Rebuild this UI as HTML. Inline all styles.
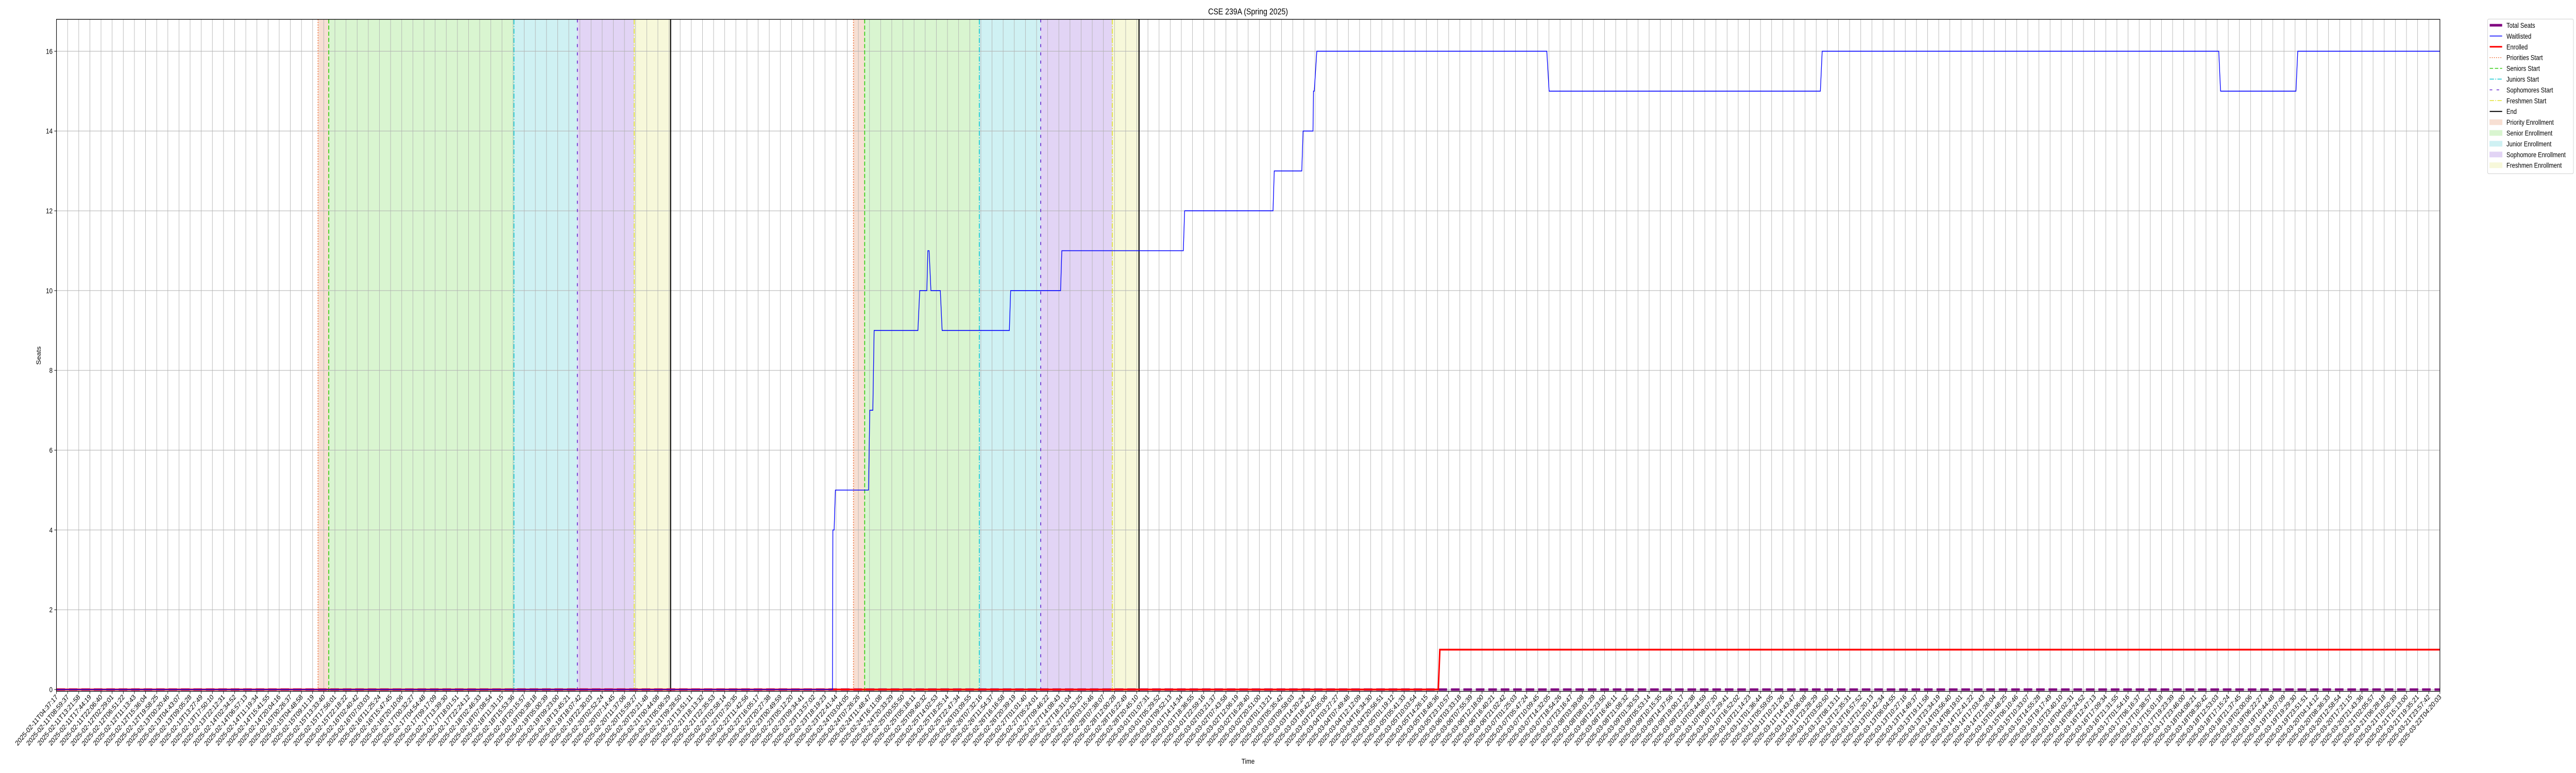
<!DOCTYPE html>
<html><head><meta charset="utf-8"><style>
html,body{margin:0;padding:0;background:#fff;width:100%;height:100%;overflow:hidden;}
svg{display:block;font-family:"Liberation Sans","DejaVu Sans",sans-serif;width:100vw;height:100vh;}
</style></head><body>
<svg id="chart" viewBox="0 0 6000 1500" preserveAspectRatio="none" xmlns="http://www.w3.org/2000/svg">
<rect x="0" y="0" width="6000" height="1500" fill="#fff"/>
<text x="2907" y="28" font-size="17" text-anchor="middle" fill="#000">CSE 239A (Spring 2025)</text>
<g id="plot"></g>
<text transform="translate(95,690) rotate(-90)" font-size="14" text-anchor="middle" fill="#000">Seats</text>
<text x="2907" y="1482" font-size="14" text-anchor="middle" fill="#000">Time</text>
<g id="legend"></g>
</svg>
<script>
// ---- data (hours since 2025-02-11T04:37:17) ----
const startTime = "2025-02-11T04:37:17";
const endTime = "2025-03-22T04:20:03";
const tickCount = 215;
const yTicks = [0,2,4,6,8,10,12,14,16];
const waitTimes = [0,304.65,304.8,305.3,305.8,318.8,319.3,320.5,321.0,338.2,338.9,341.7,342.1,342.6,343.3,347.0,347.7,374.1,374.6,394.2,394.7,442.4,442.9,477.6,478.1,488.9,489.4,493.3,493.5,493.8,494.8,585.1,586.0,692.5,693.2,848.9,849.6,879.2,879.9,935.7];
const waitValues = [0,0,4,4,5,5,7,7,9,9,10,10,11,11,10,10,9,9,10,10,11,11,12,12,13,13,14,14,15,15,16,16,15,15,16,16,15,15,16,16];
const enrollTimes = [0,542.5,543.1,935.7];
const enrollValues = [0,0,1,1];
const seatTimes = [0,935.7];
const seatValues = [0,0];
const periodNames = ["priority","senior","junior","sophomore","freshmen"];
const cycle1Starts = [102.7,106.9,179.6,204.5,226.8];
const cycle1End = 241.1;
const cycle2Starts = [312.9,317.3,362.3,386.4,414.5];
const cycle2End = 425.0;

// ---- axes ----
const NS="http://www.w3.org/2000/svg";
const X0=131.5, X1=5683, Y0=37.5, Y1=1341.5;
const t0=Date.parse(startTime+"Z"), t1=Date.parse(endTime+"Z");
const totalH=(t1-t0)/3600000;
const yMin=-0.045, yMax=16.8;
function xs(h){return X0+(h/totalH)*(X1-X0);}
function ys(v){return Y1-(v-yMin)/(yMax-yMin)*(Y1-Y0);}
function mk(tag,attrs,parent){const e=document.createElementNS(NS,tag);for(const k in attrs)e.setAttribute(k,attrs[k]);parent.appendChild(e);return e;}
const plot=document.getElementById('plot');
const tickLabels=[];
for(let i=0;i<tickCount;i++){const d=new Date(t0+(t1-t0)*i/(tickCount-1));tickLabels.push(d.toISOString().slice(0,19));}

const shadeCols=["#f7dfd3","#d9f5d0","#cff1f3","#e2d4f5","#f7f8da"];
const lineCols=["#ee6a30","#33cc11","#11c8d0","#6a2bd0","#e0e030"];
const dashes=["2,3","8,4","10,3,2,3","6,10","10,3,2,3"];
function drawCycle(starts,end,idx){
  for(let i=0;i<starts.length;i++){
    const a=starts[i], b=(i<starts.length-1)?starts[i+1]:end;
    const r=mk('rect',{x:xs(a),y:Y0,width:xs(b)-xs(a),height:Y1-Y0,fill:shadeCols[i]},plot);
    
    
  }
}
drawCycle(cycle1Starts,cycle1End,1);
drawCycle(cycle2Starts,cycle2End,2);

// grid
tickLabels.forEach((lab,i)=>{
  const x=X0+(X1-X0)*i/(tickCount-1);
  const g=mk('line',{x1:x,x2:x,y1:Y0,y2:Y1,stroke:"#b0b0b0","stroke-width":1},plot);
  
  
  const t=mk('line',{x1:x,x2:x,y1:Y1,y2:Y1+5,stroke:"#000","stroke-width":1},plot);
  
  
  const tx=mk('text',{transform:`translate(${x+4},${Y1+12}) rotate(-45)`,"font-size":"14","text-anchor":"end",fill:"#000"},plot);
  tx.textContent=lab;
  
  
});
yTicks.forEach(v=>{
  const y=ys(v);
  const g=mk('line',{x1:X0,x2:X1,y1:y,y2:y,stroke:"#b0b0b0","stroke-width":1},plot);
  
  
  const t=mk('line',{x1:X0-5,x2:X0,y1:y,y2:y,stroke:"#000","stroke-width":1},plot);
  
  
  const tx=mk('text',{x:X0-9,y:y+5,"font-size":"14","text-anchor":"end",fill:"#000"},plot);
  tx.textContent=String(v);
  
  
});

// event lines
function drawEvents(starts,end,idx){
  starts.forEach((h,i)=>{
    const l=mk('line',{x1:xs(h),x2:xs(h),y1:Y0,y2:Y1,stroke:lineCols[i],"stroke-width":2,"stroke-dasharray":dashes[i]},plot);
    
    
  });
  const e=mk('line',{x1:xs(end),x2:xs(end),y1:Y0,y2:Y1,stroke:"#000","stroke-width":2.5},plot);
  
  
}
drawEvents(cycle1Starts,cycle1End,1);
drawEvents(cycle2Starts,cycle2End,2);

function pts(ts,vs){return ts.map((t,i)=>xs(t).toFixed(1)+","+ys(vs[i]).toFixed(1)).join(" ");}
const seat=mk('polyline',{points:pts(seatTimes,seatValues),fill:"none",stroke:"#800080","stroke-width":4.5,"stroke-dasharray":"20,9"},plot);


const enr=mk('polyline',{points:pts(enrollTimes,enrollValues),fill:"none",stroke:"#ff0000","stroke-width":3.5},plot);


const wl=mk('polyline',{points:pts(waitTimes,waitValues),fill:"none",stroke:"#0000ff","stroke-width":1.6},plot);



const frame=mk('rect',{x:X0,y:Y0,width:X1-X0,height:Y1-Y0,fill:"none",stroke:"#000","stroke-width":1.3},plot);



// legend
const leg=document.getElementById('legend');
const lbox=mk('rect',{x:5794,y:37,width:200,height:300,fill:"#fff",stroke:"#ccc","stroke-width":1,rx:3},leg);


const entries=[
 ["Total Seats","line","#800080",5,null],
 ["Waitlisted","line","#0000ff",1.5,null],
 ["Enrolled","line","#ff0000",3,null],
 ["Priorities Start","line",lineCols[0],1.5,"2,3"],
 ["Seniors Start","line",lineCols[1],1.5,"8,4"],
 ["Juniors Start","line",lineCols[2],1.5,"10,3,2,3"],
 ["Sophomores Start","line",lineCols[3],1.5,"6,10"],
 ["Freshmen Start","line",lineCols[4],1.5,"10,3,2,3"],
 ["End","line","#000",2,null],
 ["Priority Enrollment","patch",shadeCols[0]],
 ["Senior Enrollment","patch",shadeCols[1]],
 ["Junior Enrollment","patch",shadeCols[2]],
 ["Sophomore Enrollment","patch",shadeCols[3]],
 ["Freshmen Enrollment","patch",shadeCols[4]]
];
entries.forEach((en,i)=>{
  const y=49+i*20.9;
  const g=mk('g',{},leg);
  
  
  if(en[1]==="line"){
    const a={x1:5799,x2:5828,y1:y,y2:y,stroke:en[2],"stroke-width":en[3]};
    if(en[4])a["stroke-dasharray"]=en[4];
    mk('line',a,g);
  } else {
    mk('rect',{x:5799,y:y-5,width:29,height:10,fill:en[2],stroke:en[2]},g);
  }
  const t=mk('text',{x:5838,y:y+5,"font-size":"13.5",fill:"#000"},g);
  t.textContent=en[0];
});
</script>
</body></html>
